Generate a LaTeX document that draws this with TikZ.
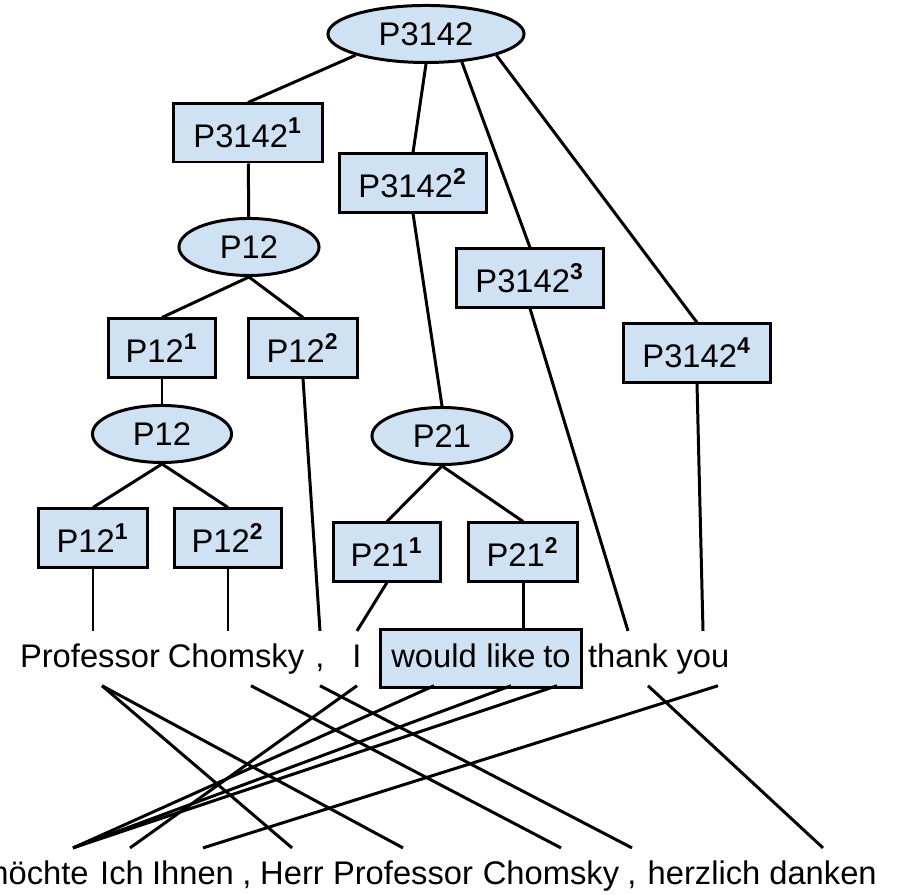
\documentclass[tikz,border=0pt]{standalone}
\usepackage{fontspec}
\setmainfont{Liberation Sans}
\usepackage{tikz}
\usetikzlibrary{shapes.geometric,fit,backgrounds}
\definecolor{nodeblue}{RGB}{207,226,243}
\newcommand{\pnum}[1]{\textsuperscript{\bfseries #1}}

\begin{document}
\begin{tikzpicture}[x=0.01cm,y=-0.01cm,font=\fontsize{9.3}{11}\selectfont,
  pell/.style={draw,ellipse,fill=nodeblue,line width=0.85pt,minimum height=0.57cm,inner sep=0pt},
  pbox/.style={draw,rectangle,fill=nodeblue,line width=0.85pt,minimum height=0.58cm,inner sep=0pt},
  word/.style={anchor=base,inner sep=0.1cm,text height=0.75em,text depth=0.2em},
  link/.style={line width=0.85pt}]
\useasboundingbox (0,0) rectangle (897,895);

% tree
\node [pell,minimum width=1.96cm] (p3142) at(426,34){P3142};
\node [pbox,minimum width=1.48cm] (p3142a) at(248,133){P3142\pnum{1}};
\node [pbox,minimum width=1.47cm] (p3142b) at(413,183){P3142\pnum{2}};
\node [pbox,minimum width=1.47cm] (p3142c) at(530,278){P3142\pnum{3}};
\node [pbox,minimum width=1.47cm] (p3142d) at(697,353){P3142\pnum{4}};

\node [pell,minimum width=1.40cm] (p12) at(249,247){P12};
\node [pbox,minimum width=1.07cm] (p12a) at(162,348){P12\pnum{1}};
\node [pbox,minimum width=1.08cm] (p12b) at(303,348){P12\pnum{2}};
\node [pell,minimum width=1.39cm] (p12low) at(162,434){P12};
\node [pbox,minimum width=1.08cm] (p12la) at(93,538){P12\pnum{1}};
\node [pbox,minimum width=1.07cm] (p12lb) at(228,538){P12\pnum{2}};

\node [pell,minimum width=1.40cm] (p21) at(442,436){P21};
\node [pbox,minimum width=1.07cm] (p21a) at(387,552){P21\pnum{1}};
\node [pbox,minimum width=1.09cm] (p21b) at(523,552){P21\pnum{2}};

% english words
\node [word] (tprof) at(90,668){Professor};
\node [word] (tchom) at(236,668){Chomsky};
\node [word] (tcom) at(320,668){,};
\node [word] (ti) at(357,668){I};
\node [word] (would) at(434,668){would};
\node [word] (like) at(511,668){like};
\node [word] (to) at(557,668){to};
\node [word] (thank) at(628,668){thank};
\node [word] (you) at(703,668){you};
\begin{scope}[on background layer]
\node [pbox,fit=(would)(like)(to),inner sep=0pt] (wlt) {};
\end{scope}

% german words
\node [word] (moechte) at(35,885){möchte};
\node [word] (ich) at(122,885){Ich};
\node [word] (ihnen) at(193,885){Ihnen};
\node [word] (bcom) at(247,885){,};
\node [word] (herr) at(292,885){Herr};
\node [word] (bprof) at(403,885){Professor};
\node [word] (bchom) at(551,885){Chomsky};
\node [word] (bcomb) at(632,885){,};
\node [word] (herz) at(704,885){herzlich};
\node [word] (danken) at(823,885){danken};

\draw [link] (p3142.south west) -- (p3142a.north);
\draw [link] (p3142.south) -- (p3142b.north);
\draw [link] (p3142.-38) -- (p3142c.north);
\draw [link] (p3142.south east) -- (p3142d.north);
\draw [link] (p3142a) -- (p12);
\draw [link] (p12.south) -- (p12a.north);
\draw [link] (p12.south) -- (p12b.north);
\draw [link] (p12a) -- (p12low);
\draw [link] (p12low.south) -- (p12la.north);
\draw [link] (p12low.south) -- (p12lb.north);
\draw [link] (p3142b.south) -- (p21.north);
\draw [link] (p21.south) -- (p21a.north);
\draw [link] (p21.south) -- (p21b.north);

\draw [link] (p12la.south) -- (p12la.south |- tprof.north);
\draw [link] (p12lb.south) -- (p12lb.south |- tchom.north);
\draw [link] (p12b.south) -- (tcom.north);
\draw [link] (p21a.south) -- (ti.north);
\draw [link] (p21b.south) -- (p21b.south |- wlt.north);
\draw [link] (p3142c.south) -- (thank.north);
\draw [link] (p3142d.south) -- (you.north);

% alignment
\draw [link] ([xshift=0.12cm]tprof.south) -- (herr.north);
\draw [link] ([xshift=0.12cm]tprof.south) -- (bprof.north);
\draw [link] ([xshift=0.15cm]tchom.south) -- ([xshift=0.1cm]bchom.north);
\draw [link] (tcom.south) -- (bcomb.north);
\draw [link] (ti.south) -- ([xshift=0.08cm]ich.north);
\draw [link] (would.south) -- ([xshift=0.38cm]moechte.north);
\draw [link] (like.south) -- ([xshift=0.38cm]moechte.north);
\draw [link] (to.south) -- ([xshift=0.38cm]moechte.north);
\draw [link] ([xshift=0.2cm]thank.south) -- (danken.north);
\draw [link] ([xshift=0.15cm]you.south) -- ([xshift=0.1cm]ihnen.north);
\end{tikzpicture}
\end{document}
